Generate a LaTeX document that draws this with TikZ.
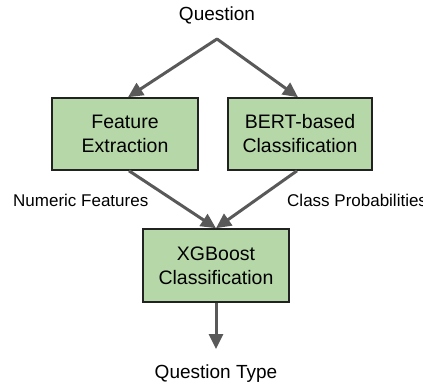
\documentclass[tikz,border=0pt]{standalone}
\usepackage{fontspec}
\setmainfont{Liberation Sans}
\usetikzlibrary{arrows.meta}
\definecolor{boxgreen}{HTML}{B6D7A8}
\definecolor{arrowgray}{HTML}{595959}
\definecolor{boxline}{HTML}{222222}
\begin{document}
\begin{tikzpicture}[x=1pt,y=-1pt,
  procbox/.style={draw=boxline, line width=1.6pt, fill=boxgreen, align=center,
    minimum width=146pt, minimum height=72pt, inner sep=0pt,
    font=\fontsize{19.5}{24}\selectfont},
  flow/.style={draw=arrowgray, line width=3pt, -{Triangle[length=15pt,width=14pt]}},
  lbl/.style={inner sep=0pt, font=\fontsize{17}{20}\selectfont},
  title/.style={inner sep=0pt, font=\fontsize{19}{22}\selectfont}]
\useasboundingbox (0,0) rectangle (423,385);
\node[title] (q) at (217,15) {Question};
\coordinate (apex) at (217,39);
\node[procbox] (fe) at (125,134) {Feature\\Extraction};
\node[procbox, minimum width=144pt] (bert) at (300,134) {BERT-based\\Classification};
\node[procbox, minimum height=73pt] (xgb) at (216,265.5) {XGBoost\\Classification};
\node[lbl, anchor=west] (nf) at (13,200) {Numeric Features};
\node[lbl, anchor=west] (cp) at (287,200) {Class Probabilities};
\node[title] (qt) at (216,374) {Question Type};
\coordinate (qtop) at (216,349);
\draw[flow, line cap=round] (apex) -- ([xshift=3pt]fe.north);
\draw[flow, line cap=round] (apex) -- ([xshift=-2pt]bert.north);
\draw[flow] ([xshift=4pt]fe.south) -- (xgb.north);
\draw[flow] ([xshift=-3pt]bert.south) -- (xgb.north);
\draw[flow] (xgb.south) -- (qtop);
\end{tikzpicture}
\end{document}
